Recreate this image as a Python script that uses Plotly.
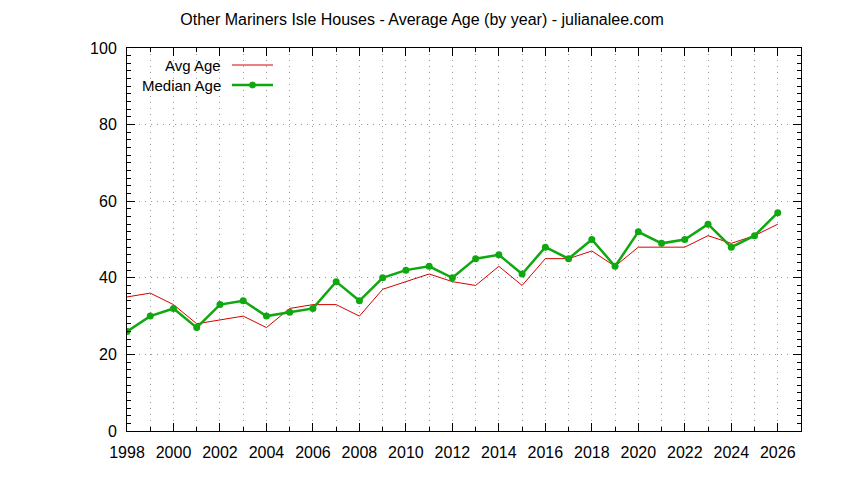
import plotly.graph_objs as go

# Data
years      = list(range(1998, 2027))
avg_age    = [35, 36, 33, 28, 29, 30, 27, 32, 33, 33, 30, 37, 39, 41, 39,
              38, 43, 38, 45, 45, 47, 43, 48, 48, 48, 51, 49, 51, 54]
median_age = [26, 30, 32, 27, 33, 34, 30, 31, 32, 39, 34, 40, 42, 43, 40,
              45, 46, 41, 48, 45, 50, 43, 52, 49, 50, 54, 48, 51, 57]
x_ticks    = list(range(1998, 2027, 2))
y_ticks    = [0, 20, 40, 60, 80, 100]

title_text = "Other Mariners Isle Houses - Average Age (by year) - julianalee.com"
red   = "#d40000"
green = "#10a810"
font  = "Liberation Sans"

# page has an 8px body margin, so the figure is 828x464 drawn at (8, 8)
OFF = 8
L, T, R, B = 127, 48, 801, 431      # plot frame in window pixels

fig = go.Figure()
fig.add_trace(go.Scatter(x = years, y = avg_age, mode = "lines", name = "Avg Age",
                         line = dict(color = red, width = 1), showlegend = False))
fig.add_trace(go.Scatter(x = years, y = median_age, mode = "lines+markers", name = "Median Age",
                         line = dict(color = green, width = 2.5),
                         marker = dict(color = green, size = 7, symbol = "circle"),
                         showlegend = False))

# gnuplot-like legend: text right aligned, sample on the right
def px(x): return (x - L) / (R - L)
def py(y): return (B - y) / (B - T)

legend_rows = [("Avg Age", 65, red, 1, False), ("Median Age", 85, green, 2.5, True)]
for label, ly, col, lw, dot in legend_rows:
    fig.add_annotation(text = label, x = px(223), y = py(ly), xref = "paper", yref = "paper",
                       xanchor = "right", yanchor = "middle", showarrow = False,
                       font = dict(family = font, size = 15, color = "black"))
    fig.add_shape(type = "line", xref = "paper", yref = "paper",
                  x0 = px(232), x1 = px(273), y0 = py(ly), y1 = py(ly),
                  line = dict(color = col, width = lw))
    if dot:
        fig.add_shape(type = "circle", xref = "paper", yref = "paper",
                      x0 = px(249.5), x1 = px(255.5), y0 = py(ly + 3), y1 = py(ly - 3),
                      fillcolor = col, line = dict(color = col, width = 1))

fig.update_layout(width = 844 - 2 * OFF, height = 480 - 2 * OFF,
                  plot_bgcolor = "white", paper_bgcolor = "white",
                  margin = dict(l = L - OFF, r = 844 - OFF - R, t = T - OFF, b = 480 - OFF - B),
                  font = dict(family = font, size = 16, color = "black"),
                  title = dict(text = title_text, x = 0.5, xref = "container", xanchor = "center",
                               y = 1 - (19 - OFF) / (480 - 2 * OFF), yanchor = "middle",
                               font = dict(family = font, size = 16, color = "black")))
fig.update_xaxes(range = [1998, 2027], tickvals = x_ticks, ticks = "inside", ticklen = 8,
                 tickcolor = "black", showline = True, linecolor = "black", linewidth = 1,
                 mirror = "allticks", showgrid = False, zeroline = False, ticklabelstandoff = 7,
                 minor = dict(dtick = 1, ticks = "inside", ticklen = 4, tickcolor = "black",
                              showgrid = True, gridcolor = "#9a9a9a", griddash = "1px,5px", gridwidth = 1))
fig.update_yaxes(range = [0, 100], tickvals = y_ticks, ticks = "inside", ticklen = 8,
                 tickcolor = "black", showline = True, linecolor = "black", linewidth = 1,
                 mirror = "allticks", showgrid = True, gridcolor = "#9a9a9a", griddash = "1px,5px",
                 gridwidth = 1, zeroline = False, ticklabelstandoff = 6,
                 minor = dict(dtick = 2, ticks = "inside", ticklen = 4, tickcolor = "black",
                              showgrid = False))

fig.write_html("out.html")
